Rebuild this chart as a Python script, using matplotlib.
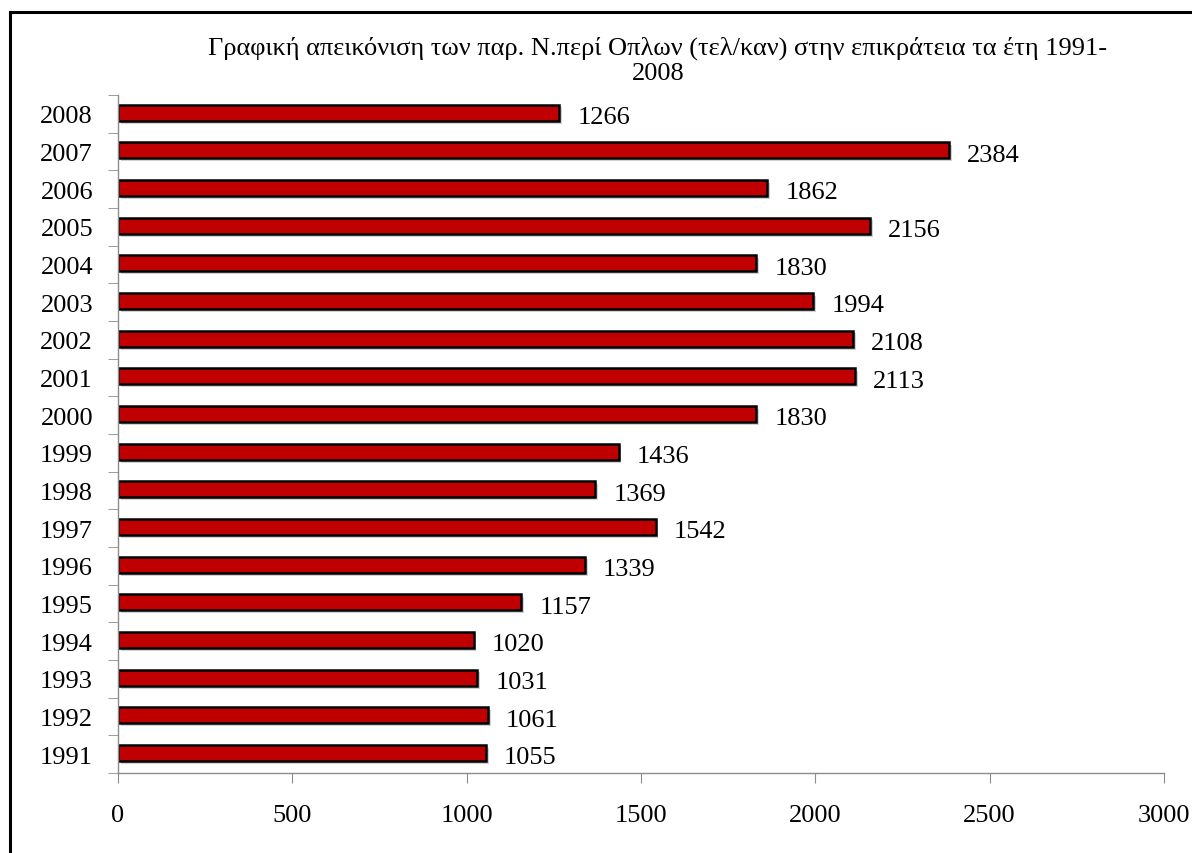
import numpy as np
import matplotlib.pyplot as plt
import matplotlib.patheffects as pe
from matplotlib.lines import Line2D

years = ["1991", "1992", "1993", "1994", "1995", "1996", "1997", "1998", "1999",
         "2000", "2001", "2002", "2003", "2004", "2005", "2006", "2007", "2008"]
counts = [1055, 1061, 1031, 1020, 1157, 1339, 1542, 1369, 1436,
          1830, 2113, 2108, 1994, 1830, 2156, 1862, 2384, 1266]
xTicks = [0, 500, 1000, 1500, 2000, 2500, 3000]
title = "Γραφική απεικόνιση των παρ. Ν.περί Οπλων (τελ/καν) στην επικράτεια τα έτη 1991-\n2008"

plt.rcParams['font.family'] = ['Liberation Serif', 'DejaVu Serif']

fig = plt.figure(figsize=(11.92, 8.54), dpi=100)
ax = fig.add_axes([118/1192, 1-774/854, (1164-118)/1192, (774-96)/854])

yPos = np.arange(len(years))
bars = ax.barh(yPos + 0.03, counts, height=0.43, color="#C00000", edgecolor="black", linewidth=1.8,
               path_effects=[pe.SimplePatchShadow(offset=(2, -2), shadow_rgbFace="0.6", alpha=0.45), pe.Normal()])

for yy, val in zip(yPos, counts):
    ax.text(val + 52, yy - 0.08, str(val), ha="left", va="center", fontsize=19)

ax.set_xlim(0, 3000)
ax.set_ylim(-0.5, len(years) - 0.5)
ax.set_xticks(xTicks)
ax.set_xticklabels([str(t) for t in xTicks])
ax.set_yticks(yPos)
ax.set_yticklabels(years)
ax.set_yticks(np.arange(-0.5, len(years)), minor=True)
ax.tick_params(axis='y', which='major', length=0, labelsize=19, pad=18)
ax.tick_params(axis='y', which='minor', length=7, color="0.55", direction="out")
ax.tick_params(axis='x', length=7, color="0.55", labelsize=19, pad=15)

for side in ["top", "right"]:
    ax.spines[side].set_visible(False)
for side in ["left", "bottom"]:
    ax.spines[side].set_color("0.55")
    ax.spines[side].set_linewidth(1)

fig.text(658/1192, 1-61/854, title, ha="center", va="center", fontsize=19, linespacing=1.2)

# outer chart frame (left and top edges visible)
fig.add_artist(Line2D([10/1192, 10/1192], [0, 1-13/854], color="black", linewidth=2.2, transform=fig.transFigure))
fig.add_artist(Line2D([10/1192, 1], [1-13/854, 1-13/854], color="black", linewidth=2.2, transform=fig.transFigure))

fig.savefig("out.png", dpi=100)
plt.close()
